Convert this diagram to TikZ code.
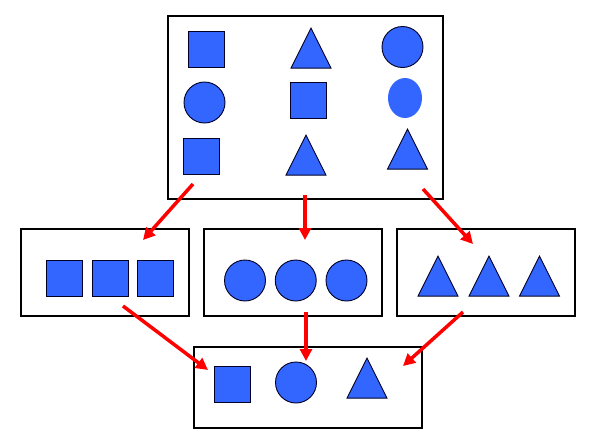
\documentclass[tikz,border=0pt]{standalone}
\usetikzlibrary{shapes.geometric, arrows.meta, positioning}
\definecolor{shapeblue}{HTML}{3366FF}
\tikzset{
	boxnode/.style={
			draw=black,
			line width=1.2pt,
			fill=white,
			inner sep=0pt
		},
	sqnode/.style={
			rectangle,
			draw=black!85!blue,
			fill=shapeblue,
			line width=0.9pt,
			minimum size=36pt,
			inner sep=0pt
		},
	circnode/.style={
			circle,
			draw=black!85!blue,
			fill=shapeblue,
			line width=0.9pt,
			minimum size=41pt,
			inner sep=0pt
		},
	trinode/.style={
			isosceles triangle,
			isosceles triangle stretches,
			shape border rotate=90,
			draw=black!85!blue,
			fill=shapeblue,
			line width=0.9pt,
			minimum width=40pt,
			minimum height=40pt,
			inner sep=0pt,
			anchor=apex
		},
	ovalnode/.style={
			ellipse,
			draw=none,
			fill=shapeblue,
			minimum width=34pt,
			minimum height=40pt,
			inner sep=0pt
		},
	redarrow/.style={
			draw=red,
			line width=3.5pt,
			-{Triangle[length=12pt,width=12pt]}
		}
}

\begin{document}
\begin{tikzpicture}[x=1pt, y=-1pt]
\useasboundingbox (0,0) rectangle (598,442);

% boxes
\node[boxnode, minimum width=275pt, minimum height=183pt] (top) at (305.5,107.5) {};
\node[boxnode, minimum width=168pt, minimum height=87pt] (left) at (105,272.5) {};
\node[boxnode, minimum width=178pt, minimum height=87pt] (mid) at (293,272.5) {};
\node[boxnode, minimum width=178pt, minimum height=87pt] (right) at (486,272.5) {};
\node[boxnode, minimum width=228pt, minimum height=81pt] (bottom) at (308,387.5) {};

% mixed shapes
\node[sqnode] (t1) at (206.5,49) {};
\node[trinode] (t2) at (311,27) {};
\node[circnode] (t3) at (402.5,47) {};
\node[circnode] (t4) at (204.5,102.5) {};
\node[sqnode] (t5) at (308,100) {};
\node[ovalnode] (t6) at (405,98) {};
\node[sqnode] (t7) at (201,156) {};
\node[trinode] (t8) at (306,134) {};
\node[trinode] (t9) at (407.5,128) {};

% sorted shapes
\node[sqnode] (l1) at (64,278) {};
\node[sqnode] (l2) at (110,278) {};
\node[sqnode] (l3) at (155.5,278) {};
\node[circnode] (m1) at (245,280.5) {};
\node[circnode] (m2) at (295.75,280.5) {};
\node[circnode] (m3) at (346.5,280.5) {};
\node[trinode] (r1) at (438,255) {};
\node[trinode] (r2) at (489,255) {};
\node[trinode] (r3) at (539.5,255) {};

% picked shapes
\node[sqnode] (b1) at (232,384.5) {};
\node[circnode] (b2) at (296,382.5) {};
\node[trinode] (b3) at (367,357) {};

% arrow ends
\coordinate (a1s) at (193,184);
\coordinate (a1e) at (143,240);
\coordinate (a2s) at (305,195);
\coordinate (a2e) at (305,240);
\coordinate (a3s) at (423,189);
\coordinate (a3e) at (473,244);
\coordinate (a4s) at (123,306);
\coordinate (a4e) at (208,370);
\coordinate (a5s) at (306,312);
\coordinate (a5e) at (306,361);
\coordinate (a6s) at (463,312);
\coordinate (a6e) at (403,366);

\draw[redarrow] (a1s) -- (a1e);
\draw[redarrow] (a2s) -- (a2e);
\draw[redarrow] (a3s) -- (a3e);
\draw[redarrow] (a4s) -- (a4e);
\draw[redarrow] (a5s) -- (a5e);
\draw[redarrow] (a6s) -- (a6e);
\end{tikzpicture}
\end{document}
